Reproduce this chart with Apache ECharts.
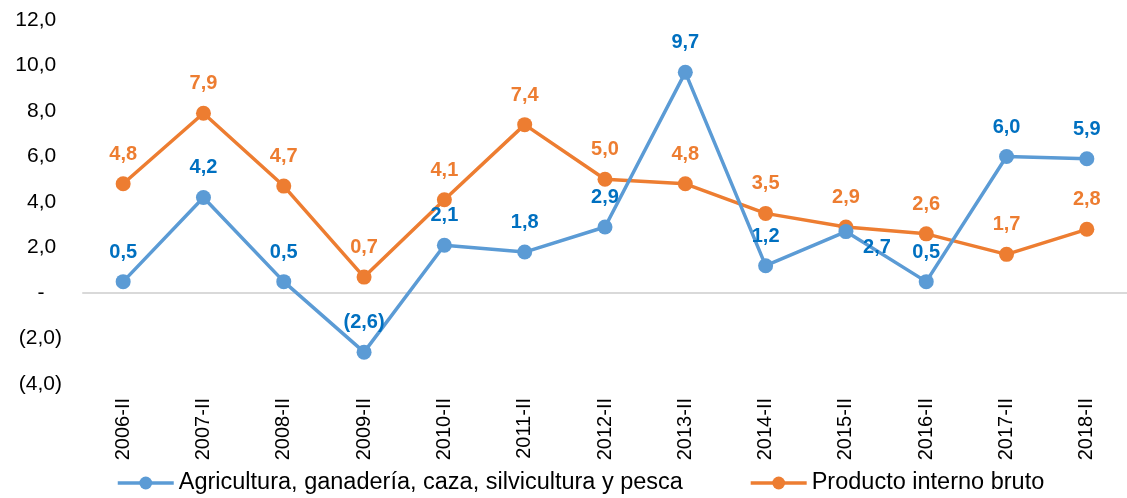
<!DOCTYPE html>
<html>
<head>
<meta charset="utf-8">
<script src="https://cdn.jsdelivr.net/npm/echarts@6/dist/echarts.min.js"></script>
<style>
  html, body { margin: 0; padding: 0; background: #fff; }
  #chart { width: 1127px; height: 498px; }
</style>
</head>
<body>
<div id="chart"></div>
<script>
const categories = ['2006-II', '2007-II', '2008-II', '2009-II', '2010-II', '2011-II', '2012-II',
  '2013-II', '2014-II', '2015-II', '2016-II', '2017-II', '2018-II'];
const agricultura = [0.5, 4.2, 0.5, -2.6, 2.1, 1.8, 2.9, 9.7, 1.2, 2.7, 0.5, 6.0, 5.9];
const pib = [4.8, 7.9, 4.7, 0.7, 4.1, 7.4, 5.0, 4.8, 3.5, 2.9, 2.6, 1.7, 2.8];
const yTicks = [-4, -2, 0, 2, 4, 6, 8, 10, 12];

// formato contable: coma decimal, negativos entre paréntesis
const fmt = v => {
  const s = Math.abs(v).toFixed(1).replace('.', ',');
  return v < 0 ? '(' + s + ')' : s;
};

const chart = echarts.init(document.getElementById('chart'));
const font = 'Liberation Sans, Arial, sans-serif';

const option = {
  animation: false,
  textStyle: { fontFamily: font },
  grid: { left: 83, right: -9, top: 20, bottom: 114 },
  legend: {
    left: 111,
    bottom: -2,
    itemWidth: 56,
    itemHeight: 16,
    itemGap: 66,
    lineStyle: { width: 3.5 },
    textStyle: { fontSize: 23.5, color: '#000', fontFamily: font },
    data: ['Agricultura, ganadería, caza, silvicultura y pesca', 'Producto interno bruto']
  },
  xAxis: {
    type: 'category',
    data: categories,
    axisLine: { onZero: true, lineStyle: { color: '#d9d9d9', width: 2 } },
    axisTick: { show: false },
    axisLabel: {
      rotate: 90,
      margin: 14,
      fontSize: 20,
      color: '#000',
      fontFamily: font
    }
  },
  yAxis: {
    type: 'value',
    min: yTicks[0],
    max: yTicks[yTicks.length - 1],
    interval: 2,
    axisLine: { show: false },
    axisTick: { show: false },
    splitLine: { show: false },
    axisLabel: {
      margin: 21,
      fontSize: 21,
      color: '#000',
      fontFamily: font,
      formatter: v => v === 0 ? '-   ' : (v < 0 ? fmt(v) : fmt(v) + ' ')
    }
  },
  series: [
    {
      name: 'Agricultura, ganadería, caza, silvicultura y pesca',
      type: 'line',
      data: agricultura.map((v, i) => i === 9
        ? { value: v, label: { offset: [31, 45] } }
        : v),
      symbol: 'circle',
      symbolSize: 15,
      lineStyle: { color: '#5b9bd5', width: 3.5 },
      itemStyle: { color: '#5b9bd5' },
      label: {
        show: true,
        position: 'top',
        distance: 12,
        color: '#0070c0',
        fontWeight: 'bold',
        fontSize: 20,
        fontFamily: font,
        formatter: p => fmt(p.value)
      },
      z: 3
    },
    {
      name: 'Producto interno bruto',
      type: 'line',
      data: pib,
      symbol: 'circle',
      symbolSize: 15,
      lineStyle: { color: '#ed7d31', width: 3.5 },
      itemStyle: { color: '#ed7d31' },
      label: {
        show: true,
        position: 'top',
        distance: 12,
        color: '#ed7d31',
        fontWeight: 'bold',
        fontSize: 20,
        fontFamily: font,
        formatter: p => fmt(p.value)
      },
      z: 2
    }
  ]
};

chart.setOption(option);
</script>
</body>
</html>
